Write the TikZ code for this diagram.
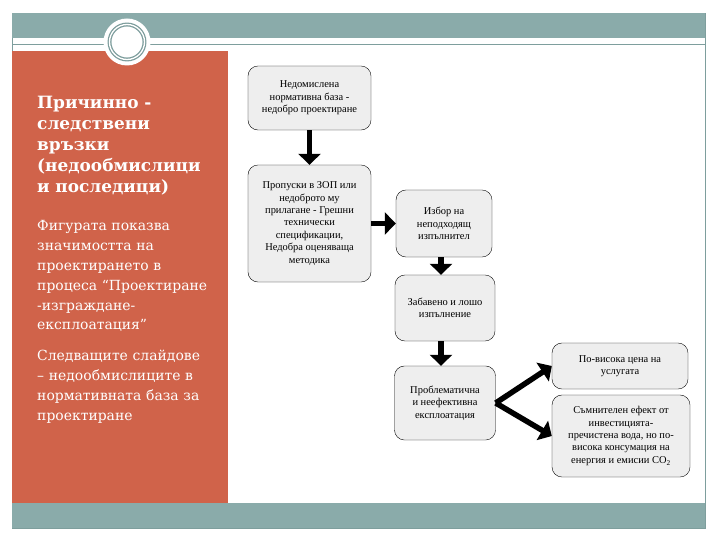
\documentclass[tikz,border=0pt]{standalone}
\usepackage{fontspec}
\setmainfont{DejaVu Serif}
\newfontfamily\boxfont{Liberation Serif}
\usetikzlibrary{arrows.meta,positioning}
\definecolor{bandTeal}{HTML}{8AABAA}
\definecolor{lineTeal}{HTML}{7E9E9D}
\definecolor{panelRed}{HTML}{D0634A}
\definecolor{boxGray}{HTML}{EEEEEE}
\tikzset{
myBand/.style={
	fill=bandTeal,draw=none
}
, myPanelTitle/.style={
	anchor=north west, text=white, align=left,
	inner sep=0pt, text width=185bp,
	font=\fontsize{17}{21}\selectfont\bfseries
}
, myPanelText/.style={
	anchor=north west, text=white, align=left,
	inner sep=0pt, text width=185bp,
	font=\fontsize{14}{20}\selectfont
}
, myBox/.style={
	rectangle, rounded corners=10pt, draw=black, fill=boxGray,
	align=center, inner sep=2pt, text=black,
	font=\boxfont\fontsize{10.5}{12.5}\selectfont
}
% links
, myArrow/.style={-{Triangle[length=11bp,width=22bp]},line width=5.5bp,black}
}

\begin{document}
\begin{tikzpicture}[x=1bp,y=-1bp]
	\useasboundingbox (0,0) rectangle (720,540);
	% frame and bands
	\draw[lineTeal,line width=0.8bp] (12,13) rectangle (705,528);
	\draw[lineTeal,line width=1bp] (12,45) -- (705,45);
	\fill[myBand] (12,13) rectangle (705,38);
	\fill[panelRed] (12,51) rectangle (228,503);
	\fill[myBand] (12,503) rectangle (705,528);
	% ring
	\node[circle,fill=white,minimum size=47bp,inner sep=0pt] (Ring) at (127,42) {};
	\draw[lineTeal,line width=1.3bp,double=white,double distance=1.3bp] (Ring.center) circle (17.5);
	% side panel
	\node[myPanelTitle] (Title) at (37,96) {Причинно -\\следствени\\връзки\\(недообмислици\\и последици)};
	\node[myPanelText] (Figure) at (37,220) {Фигурата показва\\значимостта на\\проектирането в\\процеса “Проектиране\\-изграждане-\\експлоатация”};
	\node[myPanelText] (Next) at (37,350) {Следващите слайдове\\– недообмислиците в\\нормативната база за\\проектиране};
	% boxes
	\node[myBox,minimum width=123bp,minimum height=64bp] (Norm) at (309.5,98) {Недомислена\\нормативна база -\\недобро проектиране};
	\node[myBox,minimum width=123bp,minimum height=117bp] (Zop) at (309.5,223.5) {Пропуски в ЗОП или\\недоброто му\\прилагане - Грешни\\технически\\спецификации,\\Недобра оценяваща\\методика};
	\node[myBox,minimum width=96bp,minimum height=67bp] (Choice) at (444,223.5) {Избор на\\неподходящ\\изпълнител};
	\node[myBox,minimum width=100bp,minimum height=66bp] (Delay) at (445,308) {Забавено и лошо\\изпълнение};
	\node[myBox,minimum width=101bp,minimum height=74bp] (Oper) at (445,403) {Проблематична\\и неефективна\\експлоатация};
	\node[myBox,minimum width=136bp,minimum height=46bp] (Price) at (620,366) {По-висока цена на\\услугата};
	\node[myBox,minimum width=138bp,minimum height=82bp] (Effect) at (621,436) {Съмнителен ефект от\\инвестицията-\\пречистена вода, но по-\\висока консумация на\\енергия и емисии CO\textsubscript{2}};
	% links
	\draw[myArrow] (Norm.south) -- (Zop.north);
	\draw[myArrow] (Zop.east) -- (Choice.west);
	\draw[myArrow] ([xshift=-3bp]Choice.south) -- ([xshift=-3bp]Choice.south |- Delay.north);
	\draw[myArrow] ([xshift=-4bp]Delay.south) -- ([xshift=-4bp]Delay.south |- Oper.north);
	\draw[myArrow] (Oper.east) -- (Price.west);
	\draw[myArrow] (Oper.east) -- (Effect.west);
\end{tikzpicture}
\end{document}
